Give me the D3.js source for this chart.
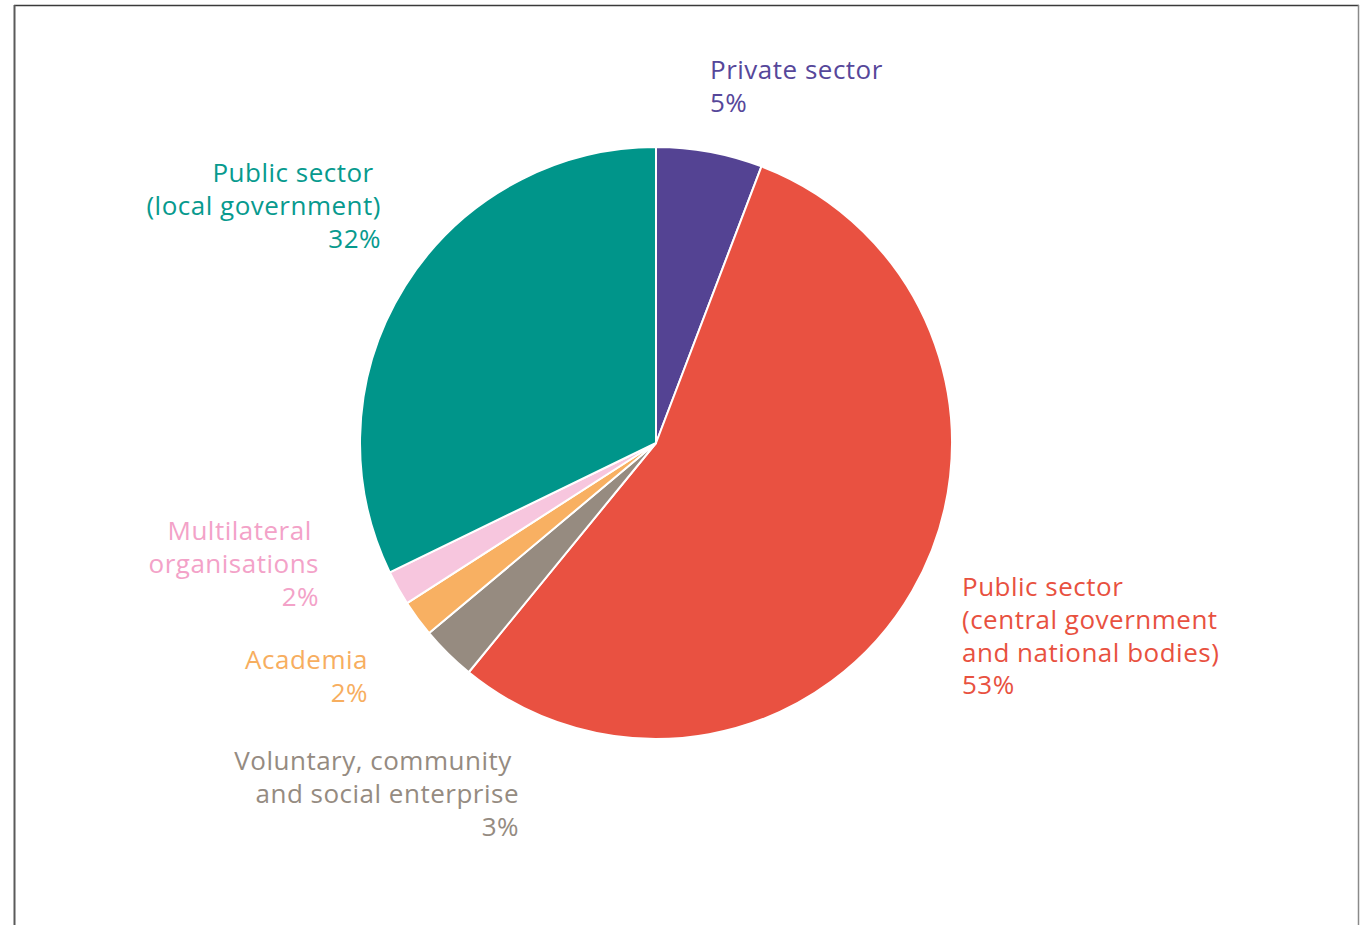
<!DOCTYPE html>
<html>
<head>
<meta charset="utf-8">
<script src="https://cdn.jsdelivr.net/npm/d3@7/dist/d3.min.js"></script>
<style>
  html, body { margin: 0; padding: 0; background: #fff; }
  svg { display: block; }
  text { font-family: "Open Sans", "Noto Sans", sans-serif; font-size: 26px; letter-spacing: 0.5px; white-space: pre; }
</style>
</head>
<body>
<svg id="chart" width="1366" height="925"></svg>
<script>
// Data
const categories = [
  "Private sector",
  "Public sector (central government and national bodies)",
  "Voluntary, community and social enterprise",
  "Academia",
  "Multilateral organisations",
  "Public sector (local government)"
];
const shares = [5.8, 55.1, 3.0, 2.0, 1.9, 32.2];   // slice sizes
const percentLabels = ["5%", "53%", "3%", "2%", "2%", "32%"];
const labelLines = [
  ["Private sector"],
  ["Public sector", "(central government", "and national bodies)"],
  ["Voluntary, community ", "and social enterprise"],
  ["Academia"],
  ["Multilateral ", "organisations"],
  ["Public sector ", "(local government)"]
];

// Style
const sliceColors = ["#544393", "#e95141", "#968b80", "#f8b062", "#f7c6de", "#00958a"];
const textColors  = ["#56479a", "#e8513f", "#958b81", "#f7ae5f", "#f3a2c8", "#079a8e"];
const labelLayout = [
  { x: 710, y: 79,  anchor: "start" },
  { x: 962, y: 596, anchor: "start" },
  { x: 519, y: 770, anchor: "end" },
  { x: 368, y: 669, anchor: "end" },
  { x: 319, y: 540, anchor: "end" },
  { x: 381, y: 182, anchor: "end" }
];
const lineH = 32.8;
const cx = 656, cy = 443, R = 296;

const svg = d3.select("#chart");

// frame
svg.append("line").attr("x1", 14).attr("x2", 1359).attr("y1", 5.5).attr("y2", 5.5)
  .attr("stroke", "#3a3a3a").attr("stroke-width", 1.5);
svg.append("line").attr("x1", 14.5).attr("x2", 14.5).attr("y1", 5).attr("y2", 925)
  .attr("stroke", "#5a5a5a").attr("stroke-width", 2);
svg.append("line").attr("x1", 1358.5).attr("x2", 1358.5).attr("y1", 5).attr("y2", 925)
  .attr("stroke", "#8a8a8a").attr("stroke-width", 1.5);

const pie = d3.pie().sort(null).value(d => d)(shares);
const arc = d3.arc().innerRadius(0).outerRadius(R);
const color = d3.scaleOrdinal().domain(categories).range(sliceColors);
const tcolor = d3.scaleOrdinal().domain(categories).range(textColors);

const g = svg.append("g").attr("transform", `translate(${cx},${cy})`);
g.selectAll("path").data(pie).join("path")
  .attr("d", arc)
  .attr("fill", (d, i) => color(categories[i]))
  .attr("stroke", "#fff")
  .attr("stroke-width", 2)
  .attr("stroke-linejoin", "round");

const labels = svg.append("g");
categories.forEach((c, i) => {
  const L = labelLayout[i];
  const t = labels.append("text")
    .attr("x", L.x).attr("y", L.y)
    .attr("text-anchor", L.anchor)
    .attr("fill", tcolor(c));
  const lines = labelLines[i].concat([percentLabels[i]]);
  lines.forEach((ln, k) => {
    t.append("tspan").attr("x", L.x).attr("y", L.y + k * lineH).text(ln);
  });
});
</script>
</body>
</html>
